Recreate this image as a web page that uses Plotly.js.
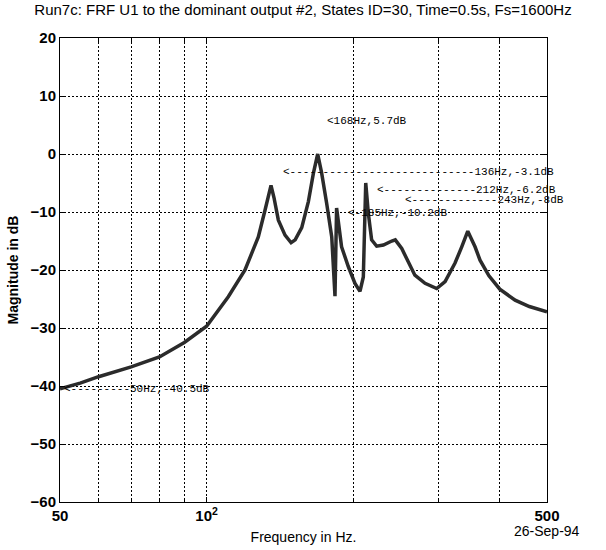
<!DOCTYPE html>
<html>
<head>
<meta charset="utf-8">
<script src="https://cdn.plot.ly/plotly-3.0.1.min.js"></script>
<style>
  html, body { margin: 0; padding: 0; background: #fff; }
  #chart { width: 606px; height: 550px; }
</style>
</head>
<body>
<div id="chart"></div>
<script>
// Frequency response magnitude, U1 -> dominant output #2
const freqHz = [50, 55, 60, 70, 80, 90, 100, 110.8, 119.9, 127.7, 131.8, 134, 135.6, 137.5,
  140.4, 144.9, 149.1, 152, 156.8, 161.8, 165.7, 169.1, 172.3, 176.4, 180.7, 183.5, 184.9,
  189.3, 195.4, 201.7, 206.5, 209.8, 212.2, 214.8, 218.2, 223.5, 230.7, 240, 244, 251.6,
  255.6, 267.7, 280.9, 296.8, 308.8, 323.7, 334.1, 343.8, 355.8, 364.3, 380, 400, 430, 460, 500];
const magDb = [-40.5, -39.5, -38.4, -36.7, -35.0, -32.5, -29.7, -24.6, -20.0, -14.3, -9.7, -7.0, -5.4, -7.5,
  -11.4, -14.0, -15.3, -14.8, -12.7, -8.2, -3.3, 0.0, -3.3, -8.5, -14.3, -24.5, -9.3,
  -16.0, -19.4, -22.3, -23.7, -21.2, -5.0, -10.2, -14.8, -15.9, -15.7, -15.0, -14.8, -16.3,
  -17.5, -20.9, -22.3, -23.2, -22.0, -18.8, -16.0, -13.3, -16.0, -18.3, -21.0, -23.3, -25.2, -26.3, -27.2];

// Peak markers written on the plot: frequency, level and leader length (dashes)
const markFreq = [168, 136, 212, 243, 185, 50];
const markDb = [5.7, -3.1, -6.2, -8, -10.2, -40.5];
const markDashes = [0, 28, 14, 13, 1, 9];
const markShift = [9, 9, 9, 9, 9, 2];

// Axis ticks and grid positions
const xTickVals = [50, 100, 500];
const xTickText = ['50', '10<sup>2</sup>', '500'];
const xGridVals = [60, 70, 80, 90, 200, 300, 400];
const yRange = [-60, 20];

const titleText = 'Run7c: FRF U1 to the dominant output #2, States ID=30, Time=0.5s, Fs=1600Hz';
const dateText = '26-Sep-94';

const sans = 'Liberation Sans, Arial, Helvetica, sans-serif';
const mono = 'Liberation Mono, DejaVu Sans Mono, Courier New, monospace';
const gridDash = '2px,2px';

const trace = {
  x: freqHz,
  y: magDb,
  type: 'scatter',
  mode: 'lines',
  line: { color: '#2b2b2b', width: 3.5 },
  hoverinfo: 'x+y'
};

const markAnnotations = markFreq.map((f, i) => ({
  xref: 'x', yref: 'y',
  x: Math.log10(f), y: markDb[i],
  text: '&lt;' + '-'.repeat(markDashes[i]) + f + 'Hz,' + markDb[i] + 'dB',
  showarrow: false,
  xanchor: 'left', yanchor: 'middle',
  xshift: markShift[i],
  font: { family: mono, size: 11, color: '#000' }
}));

const layout = {
  width: 606,
  height: 550,
  margin: { l: 60, r: 59, t: 38, b: 48 },
  paper_bgcolor: '#fff',
  plot_bgcolor: '#fff',
  showlegend: false,
  font: { family: sans, color: '#000' },
  title: {
    text: titleText,
    x: 0.5, xanchor: 'center',
    y: 0.982, yanchor: 'middle',
    font: { family: sans, size: 15, color: '#000' }
  },
  xaxis: {
    type: 'log',
    range: [Math.log10(50), Math.log10(500)],
    tickmode: 'array',
    tickvals: xTickVals,
    ticktext: xTickText,
    ticks: 'inside', ticklen: 5, tickcolor: '#000',
    showgrid: true, gridcolor: '#000', gridwidth: 1, griddash: gridDash,
    minor: {
      tickmode: 'array', tickvals: xGridVals,
      showgrid: true, gridcolor: '#000', gridwidth: 1, griddash: gridDash,
      ticks: 'inside', ticklen: 4, tickcolor: '#000'
    },
    showline: true, linecolor: '#000', linewidth: 1, mirror: 'ticks',
    zeroline: false,
    tickfont: { family: sans, size: 15, color: '#000', weight: 'bold' },
    title: {
      text: 'Frequency in Hz.',
      standoff: 9,
      font: { family: sans, size: 14, color: '#000' }
    }
  },
  yaxis: {
    range: yRange,
    tick0: 0, dtick: 10,
    ticks: 'inside', ticklen: 5, tickcolor: '#000',
    showgrid: true, gridcolor: '#000', gridwidth: 1, griddash: gridDash,
    showline: true, linecolor: '#000', linewidth: 1, mirror: 'ticks',
    zeroline: false,
    tickfont: { family: sans, size: 15, color: '#000', weight: 'bold' },
    title: {
      text: 'Magnitude in dB',
      standoff: 8,
      font: { family: sans, size: 14, color: '#000', weight: 'bold' }
    }
  },
  annotations: markAnnotations.concat([{
    xref: 'paper', yref: 'paper',
    x: 1.0, y: -0.062,
    xanchor: 'center', yanchor: 'middle',
    text: dateText, showarrow: false,
    font: { family: sans, size: 14, color: '#000' }
  }])
};

Plotly.newPlot('chart', [trace], layout, { displayModeBar: false, staticPlot: true });
</script>
</body>
</html>
